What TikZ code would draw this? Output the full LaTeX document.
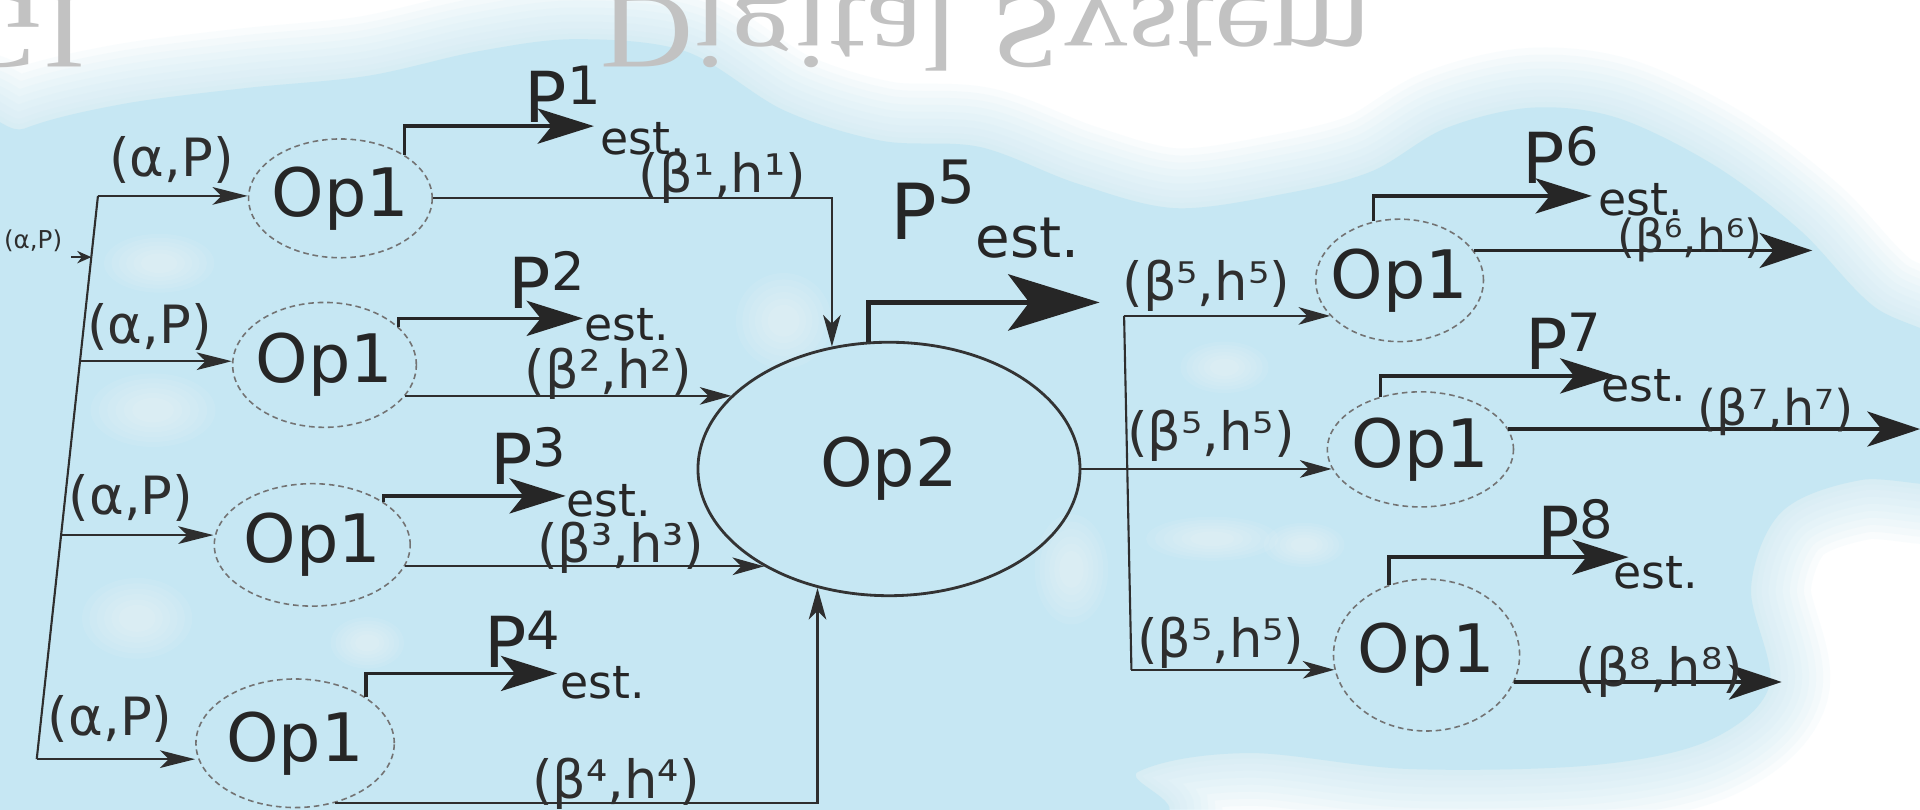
\documentclass[tikz,border=0pt]{standalone}
\usepackage{fontspec}
\setmainfont{DejaVu Sans}
\newfontfamily\serifwm{Liberation Serif}
\usetikzlibrary{arrows.meta,shapes.geometric,calc}
\definecolor{bgblue}{HTML}{C6E7F3}
\definecolor{ink}{HTML}{2E2E2E}
\newcommand\UU{0.012245cm}
\newcommand\PE[1]{{\fontsize{20}{20}\selectfont P}\raisebox{5.2pt}{\fontsize{15}{15}\selectfont #1}\raisebox{-9pt}{\fontsize{13}{13}\selectfont est.}}
\newcommand\PEbig[1]{{\fontsize{22}{22}\selectfont P}\raisebox{10.4pt}{\fontsize{17}{17}\selectfont #1}\raisebox{-4.9pt}{\fontsize{16}{16}\selectfont est.}}
\begin{document}
\begin{tikzpicture}[x=0.012245cm, y=-0.012245cm,
 lin/.style={draw=ink, line width=0.6pt},
 inarr/.style={lin, -{Stealth[length=10pt,width=5pt,inset=2.5pt]}},
 barr/.style={lin, -{Stealth[length=9pt,width=5pt,inset=2.5pt]}},
 parr/.style={draw=black!85, line width=1pt, -{Stealth[length=16pt,width=10pt,inset=4pt]}},
 bigarr/.style={draw=black!85, line width=1.5pt, -{Stealth[length=26pt,width=16pt,inset=6pt]}},
 rarr/.style={draw=black!85, line width=0.9pt, -{Stealth[length=15pt,width=10pt,inset=4pt]}},
 opone/.style 2 args={ellipse, draw=black!55, line width=0.45pt, dash pattern=on 1.6pt off 1.1pt, inner sep=0pt, minimum width=#1*\UU, minimum height=#2*\UU, font=\fontsize{19}{19}\selectfont, text=black!85},
 optwo/.style={ellipse, draw=black!80, line width=0.8pt, inner sep=0pt, minimum width=312*\UU, minimum height=207*\UU, font=\fontsize{19}{19}\selectfont, text=black!85},
 lab/.style={font=\fontsize{15}{15}\selectfont, text=ink, inner sep=0pt},
 plab/.style={anchor=base west, inner sep=0pt, text=black!85},
 wm/.style={anchor=base west, inner sep=0pt, text=black!24, font=\serifwm\fontsize{36}{36}\selectfont}
]
\clip (0,0) rectangle (1568,661);
\fill[white] (0,0) rectangle (1568,661);
% background cloud
\path[save path=\cloudp] plot[smooth cycle, tension=0.55] coordinates {
 (-40,140) (20,105) (100,85) (200,72) (300,62) (390,42) (470,32) (560,42) (640,90) (720,115)
 (800,120) (880,150) (960,170) (1050,158) (1120,140) (1180,105) (1250,88) (1320,96) (1400,135)
 (1470,188) (1530,250) (1600,290) (1610,390) (1520,392) (1455,418) (1430,480) (1445,560)
 (1395,605) (1300,625) (1150,628) (1020,615) (930,630) (880,680) (-40,690)};
\foreach \lw in {34,30,26,22,18,14,10,6,3} {
 \draw[bgblue, line width=\lw pt, opacity=0.1, use path=\cloudp];
}
\fill[bgblue, use path=\cloudp];
% soft highlights
\foreach \cx/\cy/\rx/\ry in {130/215/30/16, 125/335/34/20, 112/505/30/22, 640/262/26/26, 875/465/20/30, 990/440/36/12, 1065/445/22/12, 300/525/20/14, 1000/300/24/14} {
 \foreach \s in {1.5,1.3,1.1,0.9,0.7,0.5} {
  \fill[white, opacity=0.08] (\cx,\cy) ellipse [x radius=\rx*\s, y radius=\ry*\s];
 }
}
% watermark (mirrored)
\node[wm] (wm1) at (490,-3) {\scalebox{1.02}[-0.85]{Digital System}};
\node[wm] (wm2) at (-40,-3) {\scalebox{1}[-0.85]{GI}};

% Op1 nodes (left)
\node[opone={150}{97}] (op11) at (278,162) {\makebox[0pt]{Op1}};
\node[opone={150}{102}] (op12) at (265,298) {\makebox[0pt]{Op1}};
\node[opone={160}{100}] (op13) at (255,445) {\makebox[0pt]{Op1}};
\node[opone={162}{105}] (op14) at (241,607) {\makebox[0pt]{Op1}};
% Op2
\node[optwo] (op2) at (726,383) {\makebox[0pt]{Op2}};
% Op1 nodes (right)
\node[opone={137}{100}] (op15) at (1143,229) {\makebox[0pt]{Op1}};
\node[opone={152}{94}] (op16) at (1160,367) {\makebox[0pt]{Op1}};
\node[opone={152}{124}] (op17) at (1165,535) {\makebox[0pt]{Op1}};

% left bus
\coordinate (b1) at (80,160);
\coordinate (b2) at (65.3,295);
\coordinate (b3) at (49.9,437);
\coordinate (b4) at (30,620);
\coordinate (bin) at (74.6,210);
\coordinate (in0) at (58,210);
\draw[lin] (b1) -- (b4);
\node[inner sep=0pt, text=ink, font=\fontsize{7}{7}\selectfont] (inlab) at (27,197) {(α,P)};
\draw[lin, -{Stealth[length=4pt,width=3.5pt]}] (in0) -- (bin);
\draw[inarr] (b1) -- (b1 -| op11.west);
\draw[inarr] (b2) -- (b2 -| op12.west);
\draw[inarr] (b3) -- (b3 -| op13.west);
\draw[inarr] (b4) -- (b4 -| op14.west);
\node[lab] (al1) at (140,131) {(α,P)};
\node[lab] (al2) at (122,267) {(α,P)};
\node[lab] (al3) at (107,407) {(α,P)};
\node[lab] (al4) at (90,587) {(α,P)};

% P estimates (left)
\coordinate (p1t) at (485,103);
\coordinate (p2t) at (476,260);
\coordinate (p3t) at (462,405);
\coordinate (p4t) at (455,550);
\draw[parr] (op11.34) |- (p1t);
\draw[parr] (op12.27) |- (p2t);
\draw[parr] (op13.31) |- (p3t);
\draw[parr] (op14.33) |- (p4t);
\node[plab] (pl1) at (428,100) {\PE{1}};
\node[plab] (pl2) at (415,252) {\PE{2}};
\node[plab] (pl3) at (400,396) {\PE{3}};
\node[plab] (pl4) at (395,545) {\PE{4}};

% beta/h into Op2
\draw[barr] (op11.east) -| (op2.115);
\draw[barr] (op12.-21) -- (op12.-21 -| op2.155);
\draw[barr] (op13.-13) -- (op13.-13 -| op2.218);
\draw[barr] (op14.-56) -| (op2.239);
\node[lab] (bl1) at (590,145) {(β¹,h¹)};
\node[lab] (bl2) at (497,305) {(β²,h²)};
\node[lab] (bl3) at (507,447) {(β³,h³)};
\node[lab] (bl4) at (503,640) {(β⁴,h⁴)};

% P5
\coordinate (p5t) at (898,247);
\draw[bigarr] (op2.99) |- (p5t);
\node[plab] (pl5) at (727,196) {\PEbig{5}};

% right bus
\coordinate (rb1) at (918,258);
\coordinate (rb2) at (920,383);
\coordinate (rb3) at (924,547);
\draw[lin] (op2.east) -- (rb2);
\draw[lin] (rb1) -- (rb3);
\draw[barr] (rb1) -- (rb1 -| op15.207);
\draw[barr] (rb2) -- (rb2 -| op16.192);
\draw[barr] (rb3) -- (rb3 -| op17.189);
\node[lab] (br1) at (985,233) {(β⁵,h⁵)};
\node[lab] (br2) at (989,356) {(β⁵,h⁵)};
\node[lab] (br3) at (997,525) {(β⁵,h⁵)};

% P estimates (right)
\coordinate (p6t) at (1300,160);
\coordinate (p7t) at (1320,307);
\coordinate (p8t) at (1330,455);
\draw[parr] (op15.114) |- (p6t);
\draw[parr] (op16.127) |- (p7t);
\draw[parr] (op17.118) |- (p8t);
\node[plab] (pl6) at (1243,150) {\PE{6}};
\node[plab] (pl7) at (1245,302) {\PE{7}};
\node[plab] (pl8) at (1255,455) {\PE{8}};

% beta/h outputs (right)
\coordinate (b6t) at (1480,205);
\coordinate (b7t) at (1568,350);
\coordinate (b8t) at (1455,557);
\draw[rarr] (op15.22) -- (op15.22 -| b6t);
\draw[rarr] (op16.13) -- (op16.13 -| b7t);
\draw[rarr] (op17.-17) -- (op17.-17 -| b8t);
\node[lab, font=\fontsize{13}{13}\selectfont] (b6l) at (1380,196) {(β⁶,h⁶)};
\node[lab, font=\fontsize{14}{14}\selectfont] (b7l) at (1450,336) {(β⁷,h⁷)};
\node[lab] (b8l) at (1355,549) {(β⁸,h⁸)};
\end{tikzpicture}
\end{document}
